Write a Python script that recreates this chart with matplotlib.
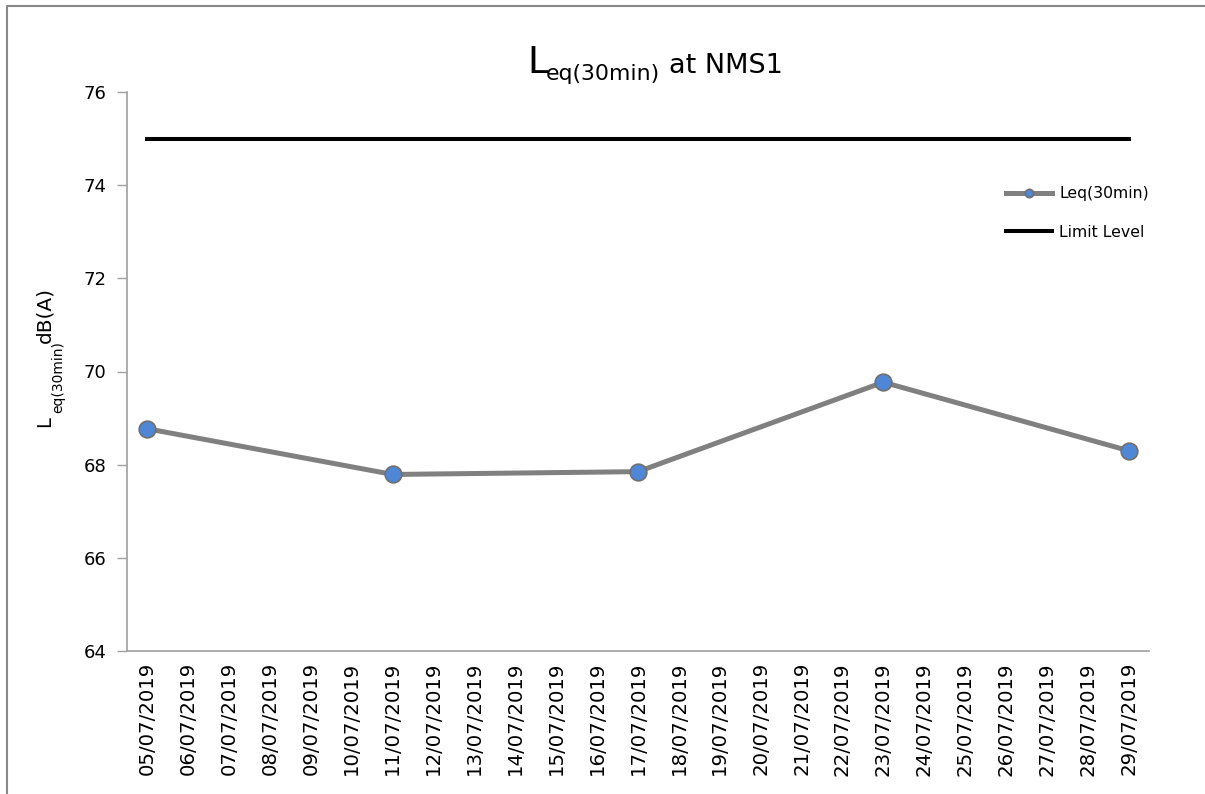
import matplotlib
matplotlib.use("Agg")
import matplotlib.pyplot as plt
import numpy as np
from matplotlib.lines import Line2D

plt.rcParams['font.family'] = ['DejaVu Sans']

dates = ["%02d/07/2019" % d for d in range(5, 30)]
meas_dates = ["05/07/2019", "11/07/2019", "17/07/2019", "23/07/2019", "29/07/2019"]
leq_values = [68.77, 67.79, 67.85, 69.77, 68.30]
limit_level = [75.0] * len(dates)
y_ticks = [64, 66, 68, 70, 72, 74, 76]

W, H = 1205, 794
fig = plt.figure(figsize=(W / 100, H / 100), dpi=100)
ax = fig.add_axes([127/W, 1-651/H, (1149-127)/W, (651-92)/H])

x_all = np.arange(len(dates))
x_meas = [dates.index(d) for d in meas_dates]

ax.plot(x_meas, leq_values, color='#808080', lw=3.6, marker='o', markersize=12,
        markerfacecolor='#4f86d6', markeredgecolor='#707070', markeredgewidth=1.2,
        label='Leq(30min)', zorder=3)
ax.plot(x_all, limit_level, color='black', lw=2.9, label='Limit Level', zorder=2)

ax.set_xlim(-0.5, len(dates) - 0.5)
ax.set_ylim(64, 76)
ax.set_yticks(y_ticks)
ax.set_yticklabels([str(t) for t in y_ticks], fontsize=13)
ax.set_xticks(x_all)
ax.set_xticklabels(dates, rotation=90, fontsize=14.2)
ax.tick_params(axis='x', length=0, pad=8)
ax.tick_params(axis='y', length=7, color='#a0a0a0', width=1, pad=8)

for s in ['top', 'right']:
    ax.spines[s].set_visible(False)
for s in ['left', 'bottom']:
    ax.spines[s].set_color('#a0a0a0')
    ax.spines[s].set_linewidth(1.2)

def fx(px):
    return px / W

def fy(py):
    return 1 - py / H

# Title composed of pieces (large L, subscript, normal text)
fig.text(fx(527), fy(73), 'L', fontsize=27, ha='left', va='baseline')
fig.text(fx(546), fy(80), 'eq(30min)', fontsize=15.8, ha='left', va='baseline')
fig.text(fx(669), fy(73), 'at NMS1', fontsize=19.5, ha='left', va='baseline')

# Y-axis label composed of pieces
fig.text(fx(50), fy(427), 'L', fontsize=14, rotation=90, rotation_mode='anchor',
         ha='left', va='baseline')
fig.text(fx(62), fy(413), 'eq(30min)', fontsize=10, rotation=90, rotation_mode='anchor',
         ha='left', va='baseline')
fig.text(fx(50), fy(343), 'dB(A)', fontsize=14.5, rotation=90, rotation_mode='anchor',
         ha='left', va='baseline')

leg = ax.legend(loc='upper left', bbox_to_anchor=(fx(1006), fy(186)), bbox_transform=fig.transFigure,
                frameon=False, fontsize=11.3, handlelength=2.95, handletextpad=0.45,
                labelspacing=1.5, borderpad=0, borderaxespad=0, markerscale=0.5)

fig.add_artist(Line2D([fx(7), fx(7), 1.0], [0.0, fy(6), fy(6)], transform=fig.transFigure,
                      color='#888888', lw=1.5))

fig.savefig('out.png', dpi=100)
